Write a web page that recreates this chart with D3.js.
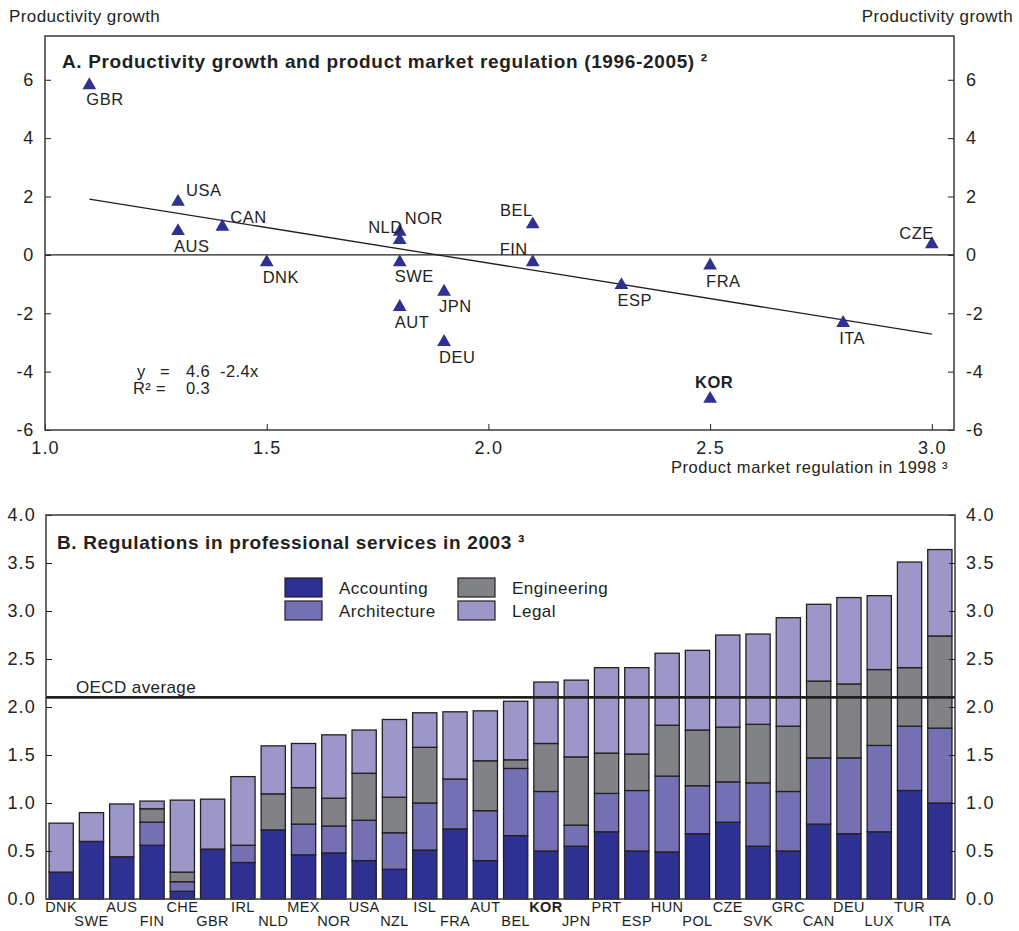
<!DOCTYPE html>
<html>
<head>
<meta charset="utf-8">
<script src="https://cdn.jsdelivr.net/npm/d3@7"></script>
<style>
  body { margin: 0; background: #fff; }
  svg { display: block; font-family: "Liberation Sans", Arial, sans-serif; }
  text { fill: #231f20; }
</style>
</head>
<body>
<svg id="chart" width="1019" height="931"></svg>
<script>
// ---- Panel A: productivity growth vs product market regulation ----
const pmrCountries = ["GBR","USA","AUS","CAN","DNK","NLD","NOR","SWE","AUT","JPN","DEU","BEL","FIN","ESP","FRA","ITA","KOR","CZE"];
const pmrRegulation = [1.1, 1.3, 1.3, 1.4, 1.5, 1.8, 1.8, 1.8, 1.8, 1.9, 1.9, 2.1, 2.1, 2.3, 2.5, 2.8, 2.5, 3.0];
const pmrGrowth = [5.85, 1.85, 0.85, 1.0, -0.22, 0.83, 0.54, -0.22, -1.75, -1.23, -2.95, 1.08, -0.22, -1.0, -0.33, -2.3, -4.9, 0.4];
const fitIntercept = 4.59;
const fitSlope = -2.435;
const fitR2 = 0.3;
const pmrYTicks = [-6, -4, -2, 0, 2, 4, 6];
const pmrXTicks = [1.0, 1.5, 2.0, 2.5, 3.0];

// ---- Panel B: regulation in professional services ----
const proCountries = ["DNK","SWE","AUS","FIN","CHE","GBR","IRL","NLD","MEX","NOR","USA","NZL","ISL","FRA","AUT","BEL","KOR","JPN","PRT","ESP","HUN","POL","CZE","SVK","GRC","CAN","DEU","LUX","TUR","ITA"];
const accounting   = [0.28,0.60,0.44,0.56,0.08,0.52,0.38,0.72,0.46,0.48,0.40,0.31,0.51,0.73,0.40,0.66,0.50,0.55,0.70,0.50,0.49,0.68,0.80,0.55,0.50,0.78,0.68,0.70,1.13,1.00];
const architecture = [0.00,0.00,0.00,0.24,0.10,0.00,0.18,0.00,0.32,0.28,0.42,0.38,0.49,0.52,0.52,0.70,0.62,0.22,0.40,0.63,0.79,0.50,0.42,0.66,0.62,0.69,0.79,0.90,0.67,0.78];
const engineering  = [0.00,0.00,0.00,0.14,0.10,0.00,0.00,0.375,0.38,0.29,0.49,0.37,0.58,0.00,0.52,0.09,0.50,0.71,0.42,0.38,0.53,0.58,0.57,0.61,0.68,0.80,0.77,0.79,0.61,0.96];
const legal        = [0.51,0.30,0.55,0.08,0.75,0.52,0.715,0.50,0.46,0.66,0.45,0.81,0.36,0.70,0.52,0.61,0.64,0.80,0.89,0.90,0.75,0.83,0.96,0.94,1.13,0.80,0.90,0.77,1.10,0.90];
const oecdAverage = 2.1;
const proYTicks = [0, 0.5, 1.0, 1.5, 2.0, 2.5, 3.0, 3.5, 4.0];
const seriesNames = ["Accounting", "Architecture", "Engineering", "Legal"];
const seriesColors = ["#2e3192", "#7570b3", "#808285", "#9d97c9"];

const svg = d3.select("#chart");
const ink = "#231f20";
const frameColor = "#3a3a3a";

// number formatting with a plain hyphen as the minus sign
const locale = d3.formatLocale({ decimal: ".", thousands: ",", grouping: [3], currency: ["", ""], minus: "-" });
const fInt = locale.format("d");
const f1 = locale.format(".1f");

// ================= Panel A =================
const A = { left: 45, right: 954, top: 36, bottom: 430 };
const xA = d3.scaleLinear().domain([1.0, 3.05]).range([A.left, A.right]);
const yA = d3.scaleLinear().domain([-6, 7.5]).range([A.bottom, A.top]);
const gA = svg.append("g");

// axis titles
gA.append("text").attr("x", 9).attr("y", 22).attr("font-size", 17).attr("letter-spacing", 0.4).text("Productivity growth");
gA.append("text").attr("x", 1013).attr("y", 22).attr("font-size", 17).attr("letter-spacing", 0.4).attr("text-anchor", "end").text("Productivity growth");

// zero line
gA.append("line").attr("x1", A.left).attr("x2", A.right).attr("y1", yA(0)).attr("y2", yA(0))
  .attr("stroke", ink).attr("stroke-width", 1.2);

// axes with inward ticks
const styleAxis = (g, size, spacing) => {
  g.select(".domain").remove();
  g.selectAll(".tick line").attr("stroke", ink);
  g.selectAll(".tick text").attr("fill", ink).attr("font-size", size).attr("letter-spacing", spacing)
    .attr("font-family", "Liberation Sans, Arial, sans-serif");
};
gA.append("g").attr("transform", `translate(${A.left},0)`)
  .call(d3.axisRight(yA).tickValues(pmrYTicks).tickSize(6).tickFormat(fInt))
  .call(g => styleAxis(g, 18, 0.8))
  .call(g => g.selectAll(".tick text").attr("x", -11).attr("text-anchor", "end"));
gA.append("g").attr("transform", `translate(${A.right},0)`)
  .call(d3.axisLeft(yA).tickValues(pmrYTicks).tickSize(6).tickFormat(fInt))
  .call(g => styleAxis(g, 18, 0.8))
  .call(g => g.selectAll(".tick text").attr("x", 12).attr("text-anchor", "start"));
gA.append("g").attr("transform", `translate(0,${A.bottom})`)
  .call(d3.axisTop(xA).tickValues(pmrXTicks).tickSize(6).tickFormat(f1))
  .call(g => styleAxis(g, 18, 1.2))
  .call(g => g.selectAll(".tick text").attr("y", 24).attr("dy", 0));

// frame
gA.append("rect").attr("x", A.left).attr("y", A.top).attr("width", A.right - A.left).attr("height", A.bottom - A.top)
  .attr("fill", "none").attr("stroke", frameColor).attr("stroke-width", 1.5);

gA.append("text").attr("x", 948).attr("y", 473).attr("font-size", 16.5).attr("letter-spacing", 0.55).attr("text-anchor", "end")
  .text("Product market regulation in 1998 ³");

// title
gA.append("text").attr("x", 62).attr("y", 68).attr("font-size", 19).attr("letter-spacing", 0.65).attr("font-weight", "bold")
  .text("A. Productivity growth and product market regulation (1996-2005) ²");

// regression line
const fitX = d3.extent(pmrRegulation);
gA.append("line")
  .attr("x1", xA(fitX[0])).attr("y1", yA(fitIntercept + fitSlope * fitX[0]))
  .attr("x2", xA(fitX[1])).attr("y2", yA(fitIntercept + fitSlope * fitX[1]))
  .attr("stroke", ink).attr("stroke-width", 1.3);

// fit equation
const eq = gA.append("g").attr("font-size", 16.5).attr("letter-spacing", 0.4);
eq.append("text").attr("x", 137).attr("y", 377).text("y");
eq.append("text").attr("x", 160).attr("y", 377).text("=");
eq.append("text").attr("x", 186).attr("y", 377).text(f1(fitIntercept));
eq.append("text").attr("x", 220).attr("y", 377).text(f1(fitSlope) + "x");
eq.append("text").attr("x", 133).attr("y", 394).text("R²");
eq.append("text").attr("x", 156).attr("y", 394).text("=");
eq.append("text").attr("x", 186).attr("y", 394).text(f1(fitR2));

// markers
const tri = d3.symbol().type(d3.symbolTriangle).size(82);
gA.append("g").selectAll("path").data(pmrCountries).join("path")
  .attr("d", tri)
  .attr("transform", (d, i) => `translate(${xA(pmrRegulation[i])},${yA(pmrGrowth[i]) + 1})`)
  .attr("fill", "#2e3192");

// label placement relative to each marker: [dx, dy, anchor]
const labelPlacement = {
  GBR: [-3, 21, "start"], USA: [8, -5, "start"], AUS: [-4, 22, "start"], CAN: [8, -3, "start"],
  DNK: [-4, 22, "start"], NLD: [3, 2, "end"], NOR: [5, -15, "start"], SWE: [-5, 21, "start"],
  AUT: [-5, 22, "start"], JPN: [-5, 21, "start"], DEU: [-5, 22, "start"], BEL: [0, -7, "end"],
  FIN: [-5, -6, "end"], ESP: [-4, 22, "start"], FRA: [-4, 22, "start"], ITA: [-4, 22, "start"],
  KOR: [-15, -10, "start"], CZE: [2, -4, "end"]
};
gA.append("g").selectAll("text").data(pmrCountries).join("text")
  .attr("x", (d, i) => xA(pmrRegulation[i]) + labelPlacement[d][0])
  .attr("y", (d, i) => yA(pmrGrowth[i]) + labelPlacement[d][1])
  .attr("text-anchor", d => labelPlacement[d][2])
  .attr("font-size", 16.5)
  .attr("letter-spacing", 0.5)
  .attr("font-weight", d => d === "KOR" ? "bold" : "normal")
  .text(d => d);

// ================= Panel B =================
const B = { left: 46, right: 955, top: 515, bottom: 899 };
const xB = d3.scaleBand().domain(proCountries).range([B.left, B.right]).paddingInner(0.2).paddingOuter(0.1);
const yB = d3.scaleLinear().domain([0, 4]).range([B.bottom, B.top]);
const gB = svg.append("g");

const rows = proCountries.map((c, i) => ({
  country: c,
  Accounting: accounting[i], Architecture: architecture[i], Engineering: engineering[i], Legal: legal[i]
}));
const stacked = d3.stack().keys(seriesNames)(rows);

gB.append("g").selectAll("g").data(stacked).join("g")
  .attr("fill", (d, i) => seriesColors[i])
  .selectAll("rect").data(d => d.filter(s => s[1] - s[0] > 0.0001)).join("rect")
  .attr("x", d => xB(d.data.country))
  .attr("width", xB.bandwidth())
  .attr("y", d => yB(d[1]))
  .attr("height", d => yB(d[0]) - yB(d[1]))
  .attr("stroke", ink).attr("stroke-width", 1.3);

// OECD average
gB.append("line").attr("x1", B.left).attr("x2", B.right).attr("y1", yB(oecdAverage)).attr("y2", yB(oecdAverage))
  .attr("stroke", ink).attr("stroke-width", 2.6);
gB.append("text").attr("x", 76).attr("y", yB(oecdAverage) - 4).attr("font-size", 17).attr("letter-spacing", 0.4).text("OECD average");

// y axes
gB.append("g").attr("transform", `translate(${B.left},0)`)
  .call(d3.axisRight(yB).tickValues(proYTicks).tickSize(6).tickFormat(f1))
  .call(g => styleAxis(g, 18, 1.2))
  .call(g => g.selectAll(".tick text").attr("x", -10).attr("text-anchor", "end"));
gB.append("g").attr("transform", `translate(${B.right},0)`)
  .call(d3.axisLeft(yB).tickValues(proYTicks).tickSize(6).tickFormat(f1))
  .call(g => styleAxis(g, 18, 1.2))
  .call(g => g.selectAll(".tick text").attr("x", 11).attr("text-anchor", "start"));

// category axis, labels on two staggered rows
gB.append("g").attr("transform", `translate(0,${B.bottom})`)
  .call(d3.axisBottom(xB).tickSize(0))
  .call(g => styleAxis(g, 14.5, 0.4))
  .call(g => g.selectAll(".tick text")
    .attr("y", (d, i) => i % 2 === 0 ? 3 : 17)
    .attr("font-weight", d => d === "KOR" ? "bold" : "normal"));

// frame
gB.append("rect").attr("x", B.left).attr("y", B.top).attr("width", B.right - B.left).attr("height", B.bottom - B.top)
  .attr("fill", "none").attr("stroke", frameColor).attr("stroke-width", 1.5);

gB.append("text").attr("x", 57).attr("y", 549).attr("font-size", 19).attr("letter-spacing", 0.65).attr("font-weight", "bold")
  .text("B. Regulations in professional services in 2003 ³");

// legend
const legendPos = [[285, 578], [285, 601], [458, 578], [458, 601]];
const lg = gB.append("g").selectAll("g").data(seriesNames).join("g")
  .attr("transform", (d, i) => `translate(${legendPos[i][0]},${legendPos[i][1]})`);
lg.append("rect").attr("width", 37).attr("height", 19)
  .attr("fill", (d, i) => seriesColors[i]).attr("stroke", ink).attr("stroke-width", 1.2);
lg.append("text").attr("x", 54).attr("y", 16).attr("font-size", 17).attr("letter-spacing", 0.5).text(d => d);
</script>
</body>
</html>
